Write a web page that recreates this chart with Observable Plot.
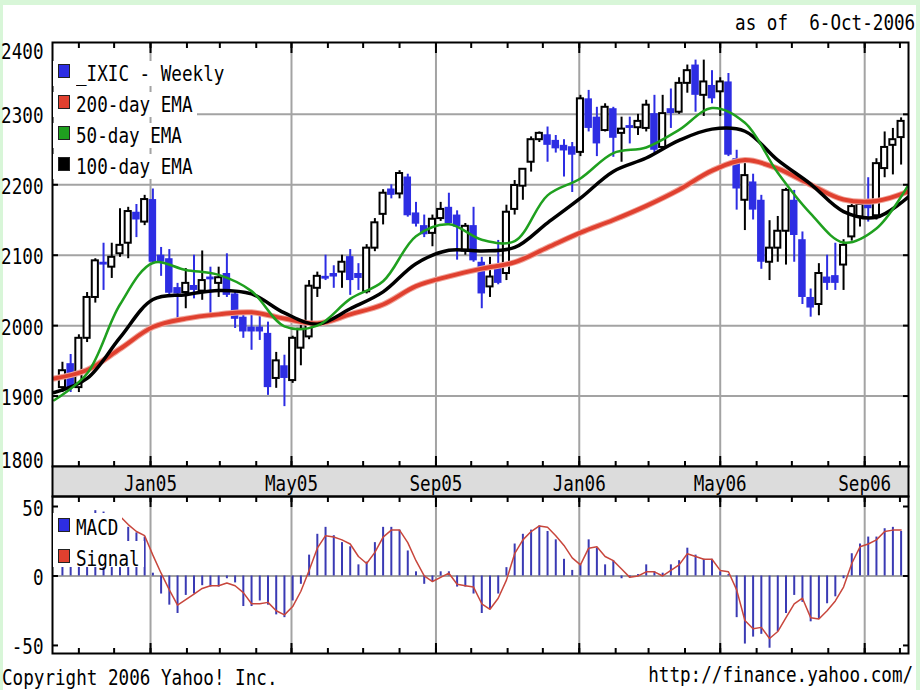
<!DOCTYPE html>
<html>
<head>
<meta charset="utf-8">
<script src="https://cdn.jsdelivr.net/npm/d3@7"></script>
<script src="https://cdn.jsdelivr.net/npm/@observablehq/plot@0.6"></script>
<style>
  html, body { margin: 0; padding: 0; background: #d8f6d8; }
  #wrap { position: relative; width: 920px; height: 690px; background: #d8f6d8; overflow: hidden; }
  #inner { position: absolute; left: 3px; top: 5px; width: 913px; height: 685px; background: #fff; }
  .plot { position: absolute; left: 0; overflow: visible; }
  .t { position: absolute; font-family: "DejaVu Sans Mono", monospace; font-size: 22px; line-height: 24px;
       white-space: pre; color: #000; transform: scaleX(0.8); }
  .box { position: absolute; background: #fff; }
  .sw { position: absolute; width: 12px; height: 14px; box-sizing: border-box; border: 1px solid #222; }
</style>
</head>
<body>
<div id="wrap"><div id="inner"></div></div>
<script>
// ---------------- data ----------------
const weekStart = "2004-10-18"; // first weekly bar (Monday)
const open  = [1912,1946,1912,1982,2040,2090,2083,2102,2117,2161,
               2147,2179,2100,2095,2054,2047,2057,2049,2069,2060,
               2074,2045,2012,1998,1998,1989,1925,1943,1922,1968,
               1984,2053,2070,2074,2076,2098,2074,2048,2110,2158,
               2194,2187,2211,2160,2142,2131,2152,2168,2157,2106,
               2142,2090,2055,2084,2074,2165,2198,2232,2264,2271,
               2263,2256,2254,2246,2322,2296,2277,2308,2273,2284,
               2281,2280,2301,2253,2308,2303,2344,2370,2327,2341,
               2332,2346,2237,2178,2204,2178,2090,2110,2134,2178,
               2122,2040,2030,2069,2071,2086,2126,2154,2175,2156,
               2223,2256,2267];
const high  = [1948,1959,1987,2047,2095,2117,2117,2166,2168,2172,
               2185,2194,2111,2108,2060,2081,2100,2106,2083,2083,
               2102,2048,2015,2021,2019,2005,1962,1958,1985,2000,
               2064,2076,2100,2085,2100,2108,2088,2115,2152,2193,
               2200,2220,2215,2175,2157,2157,2175,2188,2163,2145,
               2168,2097,2097,2121,2171,2206,2223,2268,2275,2282,
               2270,2264,2260,2327,2334,2310,2315,2310,2296,2296,
               2300,2320,2327,2327,2336,2352,2370,2377,2377,2362,
               2352,2358,2249,2230,2215,2185,2149,2155,2195,2192,
               2133,2052,2088,2100,2117,2122,2178,2178,2210,2237,
               2275,2280,2295];
const low   = [1905,1905,1905,1976,2032,2050,2067,2097,2095,2125,
               2142,2088,2070,2040,2007,2024,2038,2036,2010,2040,
               2040,1996,1982,1965,1979,1901,1911,1885,1918,1943,
               1980,2040,2064,2053,2053,2043,2050,2045,2105,2143,
               2180,2180,2154,2140,2125,2112,2148,2143,2093,2100,
               2090,2024,2040,2058,2064,2157,2178,2218,2260,2232,
               2245,2211,2189,2240,2275,2240,2275,2239,2232,2258,
               2270,2275,2245,2249,2280,2300,2330,2303,2297,2315,
               2297,2240,2164,2135,2150,2080,2064,2090,2086,2090,
               2030,2012,2014,2050,2050,2050,2120,2140,2147,2150,
               2210,2214,2228];
const close = [1936,1912,1982,2040,2092,2086,2097,2114,2162,2150,
               2179,2090,2090,2046,2045,2060,2050,2064,2065,2068,
               2043,2009,1991,1991,1991,1912,1950,1925,1982,1995,
               2056,2070,2066,2069,2090,2064,2067,2110,2146,2188,
               2185,2216,2156,2144,2129,2151,2165,2145,2140,2141,
               2092,2045,2069,2060,2161,2199,2222,2264,2273,2256,
               2251,2248,2242,2322,2280,2258,2310,2266,2279,2280,
               2290,2313,2249,2301,2301,2344,2362,2327,2346,2322,
               2346,2242,2194,2213,2164,2090,2110,2134,2192,2128,
               2040,2025,2074,2060,2060,2114,2169,2172,2166,2230,
               2253,2264,2290];
const macd   = [20,24,32,40,47,46,44,38,35,31,
                28,2,-13,-21,-27,-14,-13,-7,-8,-8,
                -2,-5,-22,-22,-18,-21,-28,-30,-18,-6,
                15,30,35,29,24,21,8,10,24,35,
                35,33,18,3,-6,-4,3,3,-8,-8,
                -13,-27,-24,-13,6,23,30,33,36,32,
                26,12,4,8,26,20,8,11,-2,-1,
                1,8,3,2,8,11,20,15,12,12,
                3,1,-30,-49,-44,-42,-52,-40,-27,-14,
                -19,-33,-31,-20,-15,-2,16,23,28,28,
                34,35,32];
const signal = [22,25,28,32,36,40,42,43,37,32,
                29,15,2,-10,-21,-17,-13,-9,-7,-7,
                -5,-7,-12,-20,-20,-19,-25,-28,-22,-11,
                4,20,29,28,26,23,14,9,17,28,
                33,33,24,11,0,-4,-1,2,-6,-7,
                -8,-20,-24,-16,-3,16,26,32,36,35,
                29,22,13,8,20,21,14,11,5,-1,
                0,3,3,0,4,8,16,14,12,12,
                4,3,-10,-32,-38,-37,-45,-40,-30,-20,
                -16,-30,-31,-25,-18,-8,9,21,23,26,
                32,33,33];
// EMA lines, read every 4 weeks starting at this Monday
const emaStart = "2004-10-11";
const ema200 = [1925,1937,1967,1998,2010,2016,2019,2010,2003,2016,2030,2056,2070,2081,2090,2111,2132,2150,2170,2193,2220,2235,2223,2200,2179,2177,2191];
const ema100 = [1905,1925,1983,2037,2044,2050,2045,2018,2002,2024,2048,2088,2107,2106,2111,2146,2181,2219,2238,2263,2279,2276,2235,2201,2162,2154,2184];
const ema50  = [1894,1932,2030,2089,2079,2072,2049,1999,2000,2038,2063,2127,2144,2122,2120,2185,2209,2245,2253,2278,2309,2288,2217,2159,2118,2138,2202];

const seriesNames  = ["_IXIC - Weekly", "200-day EMA", "50-day EMA", "100-day EMA"];
const macdNames    = ["MACD", "Signal"];
const yLabels      = [1800, 1900, 2000, 2100, 2200, 2300, 2400];
const yGrid        = [1900, 2000, 2100, 2200, 2300];
const macdLabels   = [-50, 0, 50];
const majorMonths  = ["2005-01-01", "2005-05-01", "2005-09-01", "2006-01-01", "2006-05-01", "2006-09-01"];
const monthLabels  = ["Jan05", "May05", "Sep05", "Jan06", "May06", "Sep06"];
const xDomain      = ["2004-10-09T13:00Z", "2006-10-08T07:00Z"];
const yDomain      = [1800, 2402];
const macdDomain   = [-55.8, 57.2];
const asOf         = "as of  6-Oct-2006";
const copyright    = "Copyright 2006 Yahoo! Inc.";
const site         = "http://finance.yahoo.com/";

// ---------------- styles ----------------
const BLUE = "#2d2de3", RED = "#e0402f", GREEN = "#1fa01f", BLACK = "#000";
const GRID = "#a3a3a3", MBLUE = "#3a3ab4", SIG = "#c8463c";
const FONT = "DejaVu Sans Mono";
const CHAR = 10.6;

// ---------------- derived ----------------
const start = new Date(weekStart);
const weeks = d3.utcMonday.range(start, d3.utcDay.offset(start, 7 * open.length));
const bars = weeks.map((date, i) => ({date, o: open[i], h: high[i], l: low[i], c: close[i],
  up: close[i] >= open[i], macd: macd[i], signal: signal[i]}));
const emaDates = ema200.map((_, k) => d3.utcDay.offset(new Date(emaStart), 28 * k));
const ema = emaDates.map((date, k) => ({date, e200: ema200[k], e100: ema100[k], e50: ema50[k]}));
const xd = xDomain.map(d => new Date(d));
const majors = majorMonths.map(d => new Date(d));
const months = d3.utcMonth.range(xd[0], xd[1]);
const off = (d, days) => new Date(+d + days * 864e5);

function squeeze(svg) {
  svg.querySelectorAll("text").forEach(t => {
    const s = t.textContent;
    if (s && s.trim().length) {
      t.setAttribute("textLength", s.length * CHAR);
      t.setAttribute("lengthAdjust", "spacingAndGlyphs");
    }
  });
  return svg;
}
const blank = () => "";
function edgeTicksX(ticksMinor, ticksMajor) {
  return [
    Plot.axisX({anchor: "top", ticks: ticksMinor, tickSize: 5, dy: 5, tickFormat: blank, label: null, strokeWidth: 2}),
    Plot.axisX({anchor: "top", ticks: ticksMajor, tickSize: 10, dy: 10, tickFormat: blank, label: null, strokeWidth: 2}),
    Plot.axisX({anchor: "bottom", ticks: ticksMinor, tickSize: 5, dy: -5, tickFormat: blank, label: null, strokeWidth: 2}),
    Plot.axisX({anchor: "bottom", ticks: ticksMajor, tickSize: 10, dy: -10, tickFormat: blank, label: null, strokeWidth: 2})
  ];
}
function edgeTicksY(ticks) {
  return [
    Plot.axisY({anchor: "left", ticks, tickSize: 6, dx: 6, tickFormat: blank, label: null, strokeWidth: 2}),
    Plot.axisY({anchor: "right", ticks, tickSize: 6, dx: -6, tickFormat: blank, label: null, strokeWidth: 2})
  ];
}

const wrap = document.getElementById("wrap");
function place(svg, top) {
  svg.classList.add("plot");
  svg.style.top = top + "px";
  svg.style.position = "absolute";
  svg.style.background = "transparent";
  svg.style.overflow = "visible";
  svg.setAttribute("overflow", "visible");
  wrap.appendChild(svg);
}

// ---------------- main price panel ----------------
const main = Plot.plot({
  width: 920, height: 467,
  marginTop: 42, marginBottom: 1, marginLeft: 52, marginRight: 12,
  x: {type: "utc", domain: xd},
  y: {domain: yDomain},
  style: {fontFamily: FONT, background: "transparent", overflow: "visible"},
  marks: [
    Plot.ruleY(yGrid, {stroke: GRID, strokeWidth: 2}),
    Plot.ruleX(majors, {stroke: GRID, strokeWidth: 2}),
    Plot.ruleX(bars.filter(d => !d.up), {x: "date", y1: "l", y2: "h", stroke: BLUE, strokeWidth: 2}),
    Plot.ruleX(bars.filter(d => d.up), {x: "date", y1: "l", y2: "h", stroke: BLACK, strokeWidth: 2}),
    Plot.rect(bars.filter(d => !d.up), {x1: d => off(d.date, -3.2), x2: d => off(d.date, 3.2), y1: "o", y2: "c", fill: BLUE}),
    Plot.rect(bars.filter(d => d.up), {x1: d => off(d.date, -2.6), x2: d => off(d.date, 2.6), y1: "o", y2: "c", fill: "white", stroke: BLACK, strokeWidth: 2}),
    Plot.line(ema, {x: "date", y: "e200", stroke: "#f0a49a", strokeWidth: 6, curve: "catmull-rom", clip: true}),
    Plot.line(ema, {x: "date", y: "e200", stroke: RED, strokeWidth: 4, curve: "catmull-rom", clip: true}),
    Plot.line(ema, {x: "date", y: "e100", stroke: BLACK, strokeWidth: 3.5, curve: "catmull-rom", clip: true}),
    Plot.line(ema, {x: "date", y: "e50", stroke: GREEN, strokeWidth: 2.5, curve: "catmull-rom", clip: true}),
    Plot.frame({stroke: BLACK, strokeWidth: 2}),
    ...edgeTicksX(months, majors),
    ...edgeTicksY(yGrid),
    Plot.text(yLabels.filter(v => v > yDomain[0] && v < 2400), {y: d => d, text: d => String(d), frameAnchor: "left", textAnchor: "end", dx: -9, dy: 2, fontSize: 22}),
    Plot.text(yLabels.filter(v => v === 2400), {y: d => d, text: d => String(d), frameAnchor: "left", textAnchor: "end", dx: -9, dy: 8.5, fontSize: 22}),
    Plot.text(yLabels.filter(v => v === yDomain[0]), {y: d => d, text: d => String(d), frameAnchor: "left", textAnchor: "end", dx: -9, dy: -6, fontSize: 22})
  ]
});
place(squeeze(main), 0);

// ---------------- month band ----------------
const band = Plot.plot({
  width: 920, height: 32,
  marginTop: 1, marginBottom: 1, marginLeft: 52, marginRight: 12,
  x: {type: "utc", domain: xd, axis: null},
  style: {fontFamily: FONT, background: "transparent", overflow: "visible"},
  marks: [
    Plot.frame({fill: "#dcdcdc"}),
    Plot.text(majors, {x: d => d, text: (d, i) => monthLabels[i], frameAnchor: "middle", dy: 2, fontSize: 22}),
    Plot.frame({stroke: BLACK, strokeWidth: 2})
  ]
});
place(squeeze(band), 465);

// ---------------- MACD panel ----------------
const macdPlot = Plot.plot({
  width: 920, height: 161,
  marginTop: 2, marginBottom: 2, marginLeft: 52, marginRight: 12,
  x: {type: "utc", domain: xd},
  y: {domain: macdDomain},
  style: {fontFamily: FONT, background: "transparent", overflow: "visible"},
  marks: [
    Plot.ruleX(majors, {stroke: GRID, strokeWidth: 2}),
    Plot.ruleY([0], {stroke: GRID, strokeWidth: 2}),
    Plot.ruleX(bars, {x: "date", y1: 0, y2: "macd", stroke: MBLUE, strokeWidth: 2}),
    Plot.line(bars, {x: "date", y: "signal", stroke: SIG, strokeWidth: 1.5}),
    Plot.frame({stroke: BLACK, strokeWidth: 2}),
    ...edgeTicksX(months, majors),
    ...edgeTicksY(macdLabels),
    Plot.text(macdLabels, {y: d => d, text: d => String(d), frameAnchor: "left", textAnchor: "end", dx: -9, dy: 2, fontSize: 22})
  ]
});
place(squeeze(macdPlot), 494);

// ---------------- HTML text: header, legends, footer ----------------
function htmlText(str, x, yc, anchor) {
  const d = document.createElement("div");
  d.className = "t";
  d.textContent = str;
  d.style.top = (yc - 12) + "px";
  if (anchor === "end") { d.style.right = (920 - x) + "px"; d.style.transformOrigin = "right center"; }
  else { d.style.left = x + "px"; d.style.transformOrigin = "left center"; }
  wrap.appendChild(d);
}
function legendRow(name, color, yc, top, h, textShift) {
  const b = document.createElement("div");
  b.className = "box";
  b.style.left = "53px";
  b.style.top = top + "px";
  b.style.height = h + "px";
  b.style.width = (23 + name.length * CHAR + 4) + "px";
  wrap.appendChild(b);
  const s = document.createElement("div");
  s.className = "sw";
  s.style.left = "58px";
  s.style.top = (yc - 7) + "px";
  s.style.background = color;
  wrap.appendChild(s);
  htmlText(name, 76, yc + textShift, "start");
}
const seriesColors = [BLUE, RED, GREEN, BLACK];
seriesNames.forEach((n, i) => { const yc = 71 + 31 * i; legendRow(n, seriesColors[i], yc, yc - 10, 25, 3); });
legendRow(macdNames[0], BLUE, 525, 513, 28, 3);
legendRow(macdNames[1], RED, 556, 541, 26, 3);

htmlText(asOf, 915, 23, "end");
htmlText(copyright, 2, 678, "start");
htmlText(site, 913, 675, "end");
</script>
</body>
</html>
